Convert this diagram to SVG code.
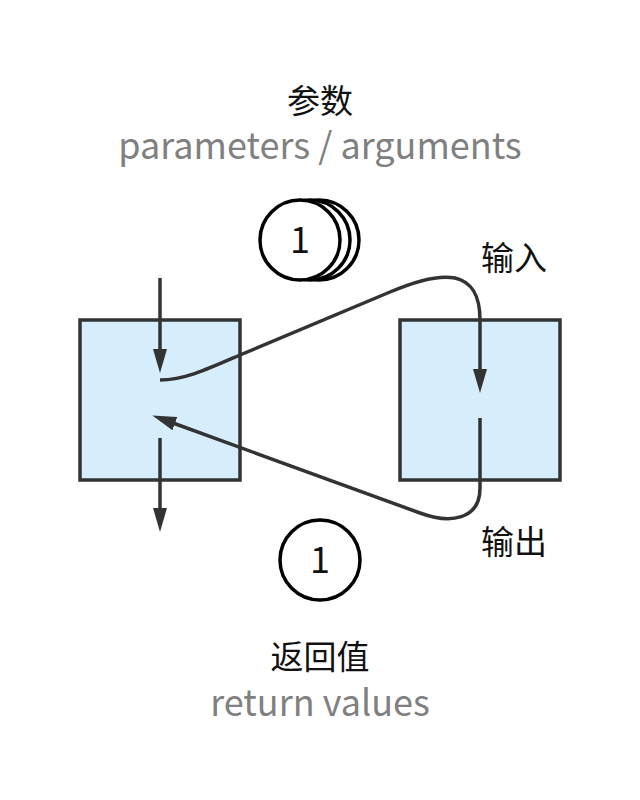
<svg xmlns="http://www.w3.org/2000/svg" width="640" height="800" viewBox="0 0 640 800">
<style>
text{font-family:"Noto Sans CJK SC","Source Sans Pro","Noto Sans",sans-serif;}
.cjk{font-size:33px;fill:#111;}
.en{font-size:36px;fill:#808080;text-anchor:middle;}
.num{font-size:36px;fill:#111;text-anchor:middle;}
.box{fill:#d6eefc;stroke:#333;stroke-width:3.5;}
.coin{fill:#fff;stroke:#000;stroke-width:3.5;}
.wire{fill:none;stroke:#333;stroke-width:3.5;marker-end:url(#ah);}
</style>
<defs>
<marker id="ah" markerUnits="userSpaceOnUse" viewBox="0 0 24 14" markerWidth="24" markerHeight="14" refX="2" refY="7" orient="auto">
<path d="M0,0 L24,7 L0,14 z" fill="#333"/>
</marker>
</defs>
<rect width="640" height="800" fill="#fff"/>
<g id="label-params">
<text class="cjk" x="320" y="113" text-anchor="middle">参数</text>
<text class="en" x="320" y="159">parameters / arguments</text>
</g>
<g id="coin-stack">
<circle class="coin" cx="319" cy="240" r="40"/>
<circle class="coin" cx="310" cy="240" r="40"/>
<circle class="coin" cx="300" cy="240" r="40"/>
<text class="num" x="300" y="253">1</text>
</g>
<g id="caller">
<rect class="box" x="80" y="320" width="160" height="160"/>
</g>
<g id="callee">
<rect class="box" x="400" y="320" width="160" height="160"/>
</g>
<g id="label-in"><text class="cjk" x="481" y="270">输入</text></g>
<g id="label-out"><text class="cjk" x="481" y="554">输出</text></g>
<g id="return-coin">
<circle class="coin" cx="320" cy="560" r="40"/>
<text class="num" x="320" y="573">1</text>
</g>
<g id="label-return">
<text class="cjk" x="320" y="669" text-anchor="middle">返回值</text>
<text class="en" x="320" y="716">return values</text>
</g>
<g id="connectors">
<path class="wire" d="M160,278 L160,351"/>
<path class="wire" d="M160,380 C185,380 210,368 240,355 L390,292 C425,277 445,276 455,278 C472,282 480,295 480,320 L480,371"/>
<path class="wire" d="M480,418 L480,488 C480,520 450,524 420,513 L173,423"/>
<path class="wire" d="M160,438 L160,510"/>
</g>
</svg>
